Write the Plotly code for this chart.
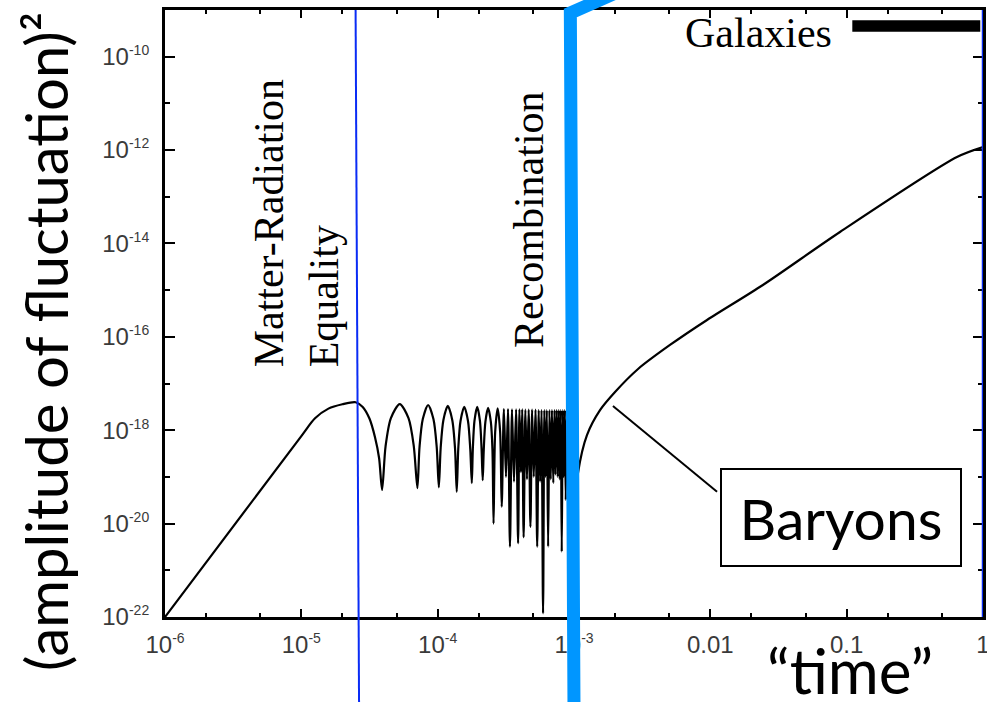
import plotly.graph_objects as go

# ---------------- data ----------------
# time (x, arbitrary units) and squared fluctuation amplitude (y)
time = [
    1.0e-6, 1.0e-5, 1.26e-5, 1.58e-5, 2.0e-5, 2.5e-5,
    2.82e-5, 3.16e-5, 3.47e-5, 3.72e-5, 3.91e-5,
    4.15e-5, 4.54e-5, 5.27e-5, 6.11e-5, 6.68e-5, 7.1e-5,
    7.36e-5, 7.78e-5, 8.51e-5, 9.31e-5, 9.84e-5, 1.02e-4,
    1.052e-4, 1.102e-4, 1.187e-4, 1.279e-4, 1.340e-4, 1.38e-4,
    1.416e-4, 1.471e-4, 1.567e-4, 1.669e-4, 1.734e-4, 1.78e-4,
    1.811e-4, 1.862e-4, 1.950e-4, 2.042e-4, 2.099e-4, 2.14e-4,
    2.178e-4, 2.239e-4, 2.344e-4, 2.455e-4, 2.523e-4, 2.57e-4,
    2.642e-4, 2.754e-4, 2.871e-4, 2.95e-4,
    3.06e-4, 3.17e-4, 3.28e-4, 3.39e-4, 3.51e-4, 3.63e-4, 3.76e-4, 3.89e-4,
    3.98e-4, 4.08e-4, 4.17e-4, 4.27e-4, 4.40e-4, 4.52e-4, 4.65e-4, 4.79e-4,
    4.93e-4, 5.07e-4, 5.22e-4, 5.37e-4, 5.51e-4, 5.64e-4, 5.78e-4, 5.93e-4,
    6.06e-4, 6.18e-4, 6.32e-4, 6.46e-4, 6.60e-4, 6.75e-4, 6.89e-4, 7.05e-4,
    7.19e-4, 7.32e-4, 7.46e-4, 7.60e-4, 7.73e-4, 7.86e-4, 8.00e-4, 8.13e-4,
    8.27e-4, 8.41e-4, 8.55e-4, 8.70e-4, 8.85e-4, 8.99e-4, 9.14e-4, 9.30e-4,
    9.45e-4, 9.59e-4, 9.74e-4, 9.90e-4,
    1.0e-3, 1.069e-3, 1.245e-3, 1.552e-3, 2.0e-3, 2.95e-3, 5.06e-3,
    9.46e-3, 2.43e-2, 8.93e-2, 0.644, 1.0,
]
amplitude = [
    1.0e-22, 7.5e-19, 1.8e-18, 2.9e-18, 3.6e-18, 3.98e-18,
    3.16e-18, 1.78e-18, 7.08e-19, 2.51e-19, 5.25e-20,
    4.57e-19, 1.82e-18, 3.63e-18, 1.82e-18, 4.57e-19, 5.75e-20,
    4.37e-19, 1.74e-18, 3.47e-18, 1.74e-18, 4.37e-19, 6.0e-20,
    4.17e-19, 1.66e-18, 3.31e-18, 1.66e-18, 4.17e-19, 4.8e-20,
    3.98e-19, 1.58e-18, 3.16e-18, 1.58e-18, 3.98e-19, 7.4e-20,
    3.98e-19, 1.58e-18, 3.16e-18, 1.58e-18, 3.98e-19, 8.5e-20,
    3.80e-19, 1.51e-18, 3.02e-18, 1.51e-18, 3.80e-19, 1.0e-20,
    9.33e-19, 2.95e-18, 9.33e-19, 2.3e-20,
    2.85e-18, 1.0e-19, 2.85e-18, 3.2e-21, 2.8e-18, 7.9e-20, 2.8e-18, 3.8e-21,
    2.8e-18, 1.26e-19, 2.8e-18, 5.1e-21, 2.75e-18, 8.9e-20, 2.75e-18, 8.5e-21,
    2.75e-18, 1.0e-19, 2.75e-18, 3.2e-21, 2.7e-18, 7.9e-20, 2.7e-18, 1.2e-22,
    2.7e-18, 1.0e-19, 2.7e-18, 3.2e-21, 2.7e-18, 8.9e-20, 2.7e-18, 7.4e-20,
    2.7e-18, 1.12e-19, 2.7e-18, 1.0e-19, 2.7e-18, 8.9e-20, 2.7e-18, 2.5e-21,
    2.7e-18, 1.0e-19, 2.7e-18, 3.2e-20, 2.7e-18, 1.0e-19, 2.7e-18, 5.0e-20,
    2.7e-18, 1.0e-19, 2.7e-18, 3.2e-20,
    1.0e-20, 1.2e-19, 7.9e-19, 2.7e-18, 6.6e-18, 2.05e-17, 6.7e-17,
    2.3e-16, 1.29e-15, 1.76e-14, 7.1e-13, 1.16e-12,
]

# event times marked by vertical lines
equality_time = [2.5e-5, 2.65e-5]        # top, bottom of the slanted line
recombination_time = [1.0e-3, 9.4e-4, 2.37e-3]
today_time = 1.0
galaxies_span = [0.11, 0.955]
pointer_curve = [1.93e-3, 3.3e-18]       # where the "Baryons" pointer touches the curve
pointer_box = [1.12e-2, 4.8e-20]         # where it meets the label box

# tick labels
x_tickvals = [1e-6, 1e-5, 1e-4, 1e-3, 1e-2, 1e-1, 1]
x_ticktext = ["10<sup><span style='font-size:14px'>-6</span></sup>",
              "10<sup><span style='font-size:14px'>-5</span></sup>",
              "10<sup><span style='font-size:14px'>-4</span></sup>",
              "10<sup><span style='font-size:14px'>-3</span></sup>",
              "0.01", "0.1", "1"]
x_minor = [2e-6, 5e-6, 2e-5, 5e-5, 2e-4, 5e-4, 2e-3, 5e-3, 2e-2, 5e-2, 0.2, 0.5]
y_tickvals = [1e-22, 1e-20, 1e-18, 1e-16, 1e-14, 1e-12, 1e-10]
y_ticktext = ["10<sup><span style='font-size:14px'>-%d</span></sup>" % e
              for e in (22, 20, 18, 16, 14, 12, 10)]
y_minor = [1e-21, 1e-19, 1e-17, 1e-15, 1e-13, 1e-11, 1e-9]

# ---------------- figure ----------------
fig = go.Figure()
fig.add_trace(go.Scatter(
    x=time, y=amplitude, mode="lines",
    line=dict(color="black", width=2.2, shape="spline", smoothing=0.8),
    hoverinfo="skip", showlegend=False,
))

tickfont = dict(family="Liberation Sans, Arial, sans-serif", size=24, color="#3a3a3a")
fig.update_xaxes(
    type="log", range=[-6, 0], automargin=False, ticklabeloverflow="allow",
    tickmode="array", tickvals=x_tickvals, ticktext=x_ticktext,
    ticks="inside", ticklen=8, tickwidth=2, tickcolor="black",
    showline=True, linewidth=3, linecolor="black", mirror="ticks",
    showgrid=False, zeroline=False, tickfont=tickfont, ticklabelstandoff=4,
    minor=dict(tickmode="array", tickvals=x_minor, ticks="inside", ticklen=4,
               tickwidth=1.5, tickcolor="black", showgrid=False),
)
fig.update_yaxes(
    type="log", range=[-22, -9], automargin=False, ticklabeloverflow="allow",
    tickmode="array", tickvals=y_tickvals, ticktext=y_ticktext,
    ticks="inside", ticklen=10, tickwidth=2, tickcolor="black",
    showline=True, linewidth=3, linecolor="black", mirror="ticks",
    showgrid=False, zeroline=False, tickfont=tickfont, ticklabelstandoff=8,
    minor=dict(tickmode="array", tickvals=y_minor, ticks="inside", ticklen=5,
               tickwidth=1.5, tickcolor="black", showgrid=False),
)

thin_blue = "#0a2cf5"
light_blue = "#0096ff"
shapes = [
    # matter-radiation equality
    dict(type="line", xref="x", yref="paper",
         x0=equality_time[0], y0=1.0, x1=equality_time[1], y1=-0.14,
         line=dict(color=thin_blue, width=2)),
    # recombination (thick, bent at the top)
    dict(type="path", xref="x", yref="paper",
         path="M %g,-0.15 L %g,0.995 L %g,1.035" % (recombination_time[0],
                                                  recombination_time[1],
                                                  recombination_time[2]),
         line=dict(color=light_blue, width=13)),
    # today
    dict(type="line", xref="x", yref="paper",
         x0=today_time, y0=1.0, x1=today_time, y1=0.0,
         line=dict(color=thin_blue, width=2.5)),
    # galaxies bar
    dict(type="rect", xref="x", yref="paper",
         x0=galaxies_span[0], x1=galaxies_span[1], y0=0.964, y1=0.983,
         line=dict(width=0), fillcolor="black"),
    # pointer to the baryon curve
    dict(type="line", xref="x", yref="y",
         x0=pointer_curve[0], y0=pointer_curve[1],
         x1=pointer_box[0], y1=pointer_box[1],
         line=dict(color="black", width=2)),
]

serif = "Liberation Serif, Times New Roman, serif"
sans = "Gill Sans, Lato, sans-serif"
common = dict(xref="paper", yref="paper", showarrow=False,
              xanchor="center", yanchor="middle")
annotations = [
    dict(text="Matter-Radiation<br>Equality", textangle=-90, align="left",
         x=0.161, y=0.648, font=dict(family=serif, size=42, color="black"), **common),
    dict(text="Recombination", textangle=-90,
         x=0.445, y=0.654, font=dict(family=serif, size=42, color="black"), **common),
    dict(text="Galaxies", x=0.726, y=0.962,
         font=dict(family=serif, size=42, color="black"), **common),
    dict(text="Baryons", x=0.827, y=0.164,
         width=238, height=95, borderpad=0,
         bordercolor="black", borderwidth=2, bgcolor="white",
         font=dict(family=sans, size=57, color="black"), **common),
    dict(text="(amplitude of fluctuation)²", textangle=-90,
         x=-0.146, y=0.454, font=dict(family=sans, size=58, color="black"), **common),
    dict(text="\u201ctime\u201d", x=0.837, y=-0.088,
         font=dict(family=sans, size=62, color="black"), **common),
]

fig.update_layout(
    width=987, height=702, autosize=False,
    margin=dict(l=165, r=4, t=10, b=85),
    paper_bgcolor="white", plot_bgcolor="white",
    shapes=shapes, annotations=annotations, showlegend=False,
)

fig.write_html("out.html")
